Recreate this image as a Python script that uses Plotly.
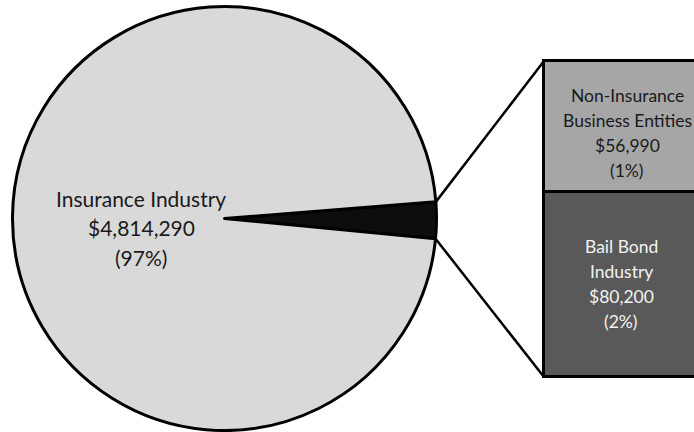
import math
import plotly.graph_objects as go

# Funding sources and their contributions
sources = ["Insurance Industry", "Non-Insurance Business Entities", "Bail Bond Industry"]
amounts = [4814290, 56990, 80200]
percents = ["97%", "1%", "2%"]
label_lines = [
    ["Insurance Industry"],
    ["Non-Insurance", "Business Entities"],
    ["Bail Bond", "Industry"],
]

# Styling
PIE_COLOR = "#d9d9d9"
WEDGE_COLOR = "#0d0d0d"
TOP_BAR_COLOR = "#a6a6a6"
BOTTOM_BAR_COLOR = "#595959"
FONT = "Lato"

W, H = 694, 432

# Pie geometry (pixels from top-left)
PIE_CX, PIE_CY, PIE_R = 224.5, 218.5, 212.0
PIE_ROTATION = 85.5  # start of the small wedge, clockwise from 12 o'clock

# Breakdown bar geometry (pixels from top-left)
BAR_LEFT, BAR_RIGHT = 544.0, 710.0
BAR_TOP_PX, BAR_BOTTOM_PX = 61.0, 377.0

other_total = amounts[1] + amounts[2]
grand_total = amounts[0] + other_total

# dollar-valued y axis so the stacked bar spans BAR_TOP_PX..BAR_BOTTOM_PX
dollars_per_px = other_total / (BAR_BOTTOM_PX - BAR_TOP_PX)
y_lo = -(H - BAR_BOTTOM_PX) * dollars_per_px
y_hi = y_lo + H * dollars_per_px


def fmt_money(v):
    return "${:,}".format(v)


def dollars_to_paper(v):
    return (v - y_lo) / (y_hi - y_lo)


fig = go.Figure()

# Pie: the combined small share is drawn first, going clockwise
fig.add_trace(go.Pie(
    values=[other_total, amounts[0]],
    labels=["Other", sources[0]],
    sort=False,
    direction="clockwise",
    rotation=PIE_ROTATION,
    marker=dict(colors=[WEDGE_COLOR, PIE_COLOR], line=dict(color="#000000", width=3)),
    textinfo="none",
    hoverinfo="skip",
    showlegend=False,
    domain=dict(
        x=[(PIE_CX - PIE_R) / W, (PIE_CX + PIE_R) / W],
        y=[(H - PIE_CY - PIE_R) / H, (H - PIE_CY + PIE_R) / H],
    ),
))

bar_center = (BAR_LEFT + BAR_RIGHT) / 2
bar_width = BAR_RIGHT - BAR_LEFT

# Stacked breakdown bar: bail bond at the bottom, non-insurance on top
fig.add_trace(go.Bar(
    x=[bar_center], y=[amounts[2]], width=[bar_width],
    marker=dict(color=BOTTOM_BAR_COLOR, line=dict(color="#000000", width=3)),
    hoverinfo="skip", showlegend=False,
))
fig.add_trace(go.Bar(
    x=[bar_center], y=[amounts[1]], width=[bar_width],
    marker=dict(color=TOP_BAR_COLOR, line=dict(color="#000000", width=3)),
    hoverinfo="skip", showlegend=False,
))

# Connector lines from the wedge edge to the bar corners
wedge_angle = 360.0 * other_total / grand_total
for ang, dollar_y in ((PIE_ROTATION, other_total), (PIE_ROTATION + wedge_angle, 0)):
    a = math.radians(ang)
    px = PIE_CX + PIE_R * math.sin(a)
    py = PIE_CY - PIE_R * math.cos(a)
    fig.add_shape(
        type="line", xref="paper", yref="paper",
        x0=px / W, y0=(H - py) / H,
        x1=BAR_LEFT / W, y1=dollars_to_paper(dollar_y),
        line=dict(color="#000000", width=2.5),
    )

annotations = []

# Pie label
pie_lines = label_lines[0] + [fmt_money(amounts[0]), "(" + percents[0] + ")"]
PIE_LABEL_X, PIE_LABEL_Y, PIE_LINE_GAP = 141.0, 227.5, 29.5
n = len(pie_lines)
for i, t in enumerate(pie_lines):
    annotations.append(dict(
        text=t, xref="paper", yref="paper",
        x=PIE_LABEL_X / W, y=(H - PIE_LABEL_Y) / H,
        yshift=((n - 1) / 2 - i) * PIE_LINE_GAP,
        showarrow=False, xanchor="center", yanchor="middle",
        font=dict(family=FONT, size=21, color="#1a1a1a"),
    ))

# Bar segment labels
BAR_LINE_GAP = 25.0
segments = [
    (1, amounts[2] + amounts[1] / 2, "#1a1a1a", 0, -6),
    (2, amounts[2] / 2, "#f2f2f2", -6, 1),
]
for idx, mid, color, xs, ys in segments:
    lines = label_lines[idx] + [fmt_money(amounts[idx]), "(" + percents[idx] + ")"]
    n = len(lines)
    for i, t in enumerate(lines):
        annotations.append(dict(
            text=t, xref="x", yref="y",
            x=bar_center, y=mid,
            xshift=xs, yshift=ys + ((n - 1) / 2 - i) * BAR_LINE_GAP,
            showarrow=False, xanchor="center", yanchor="middle",
            font=dict(family=FONT, size=17.5, color=color),
        ))

fig.update_layout(
    width=W, height=H,
    margin=dict(l=0, r=0, t=0, b=0),
    paper_bgcolor="#ffffff", plot_bgcolor="rgba(0,0,0,0)",
    barmode="stack", bargap=0,
    xaxis=dict(range=[0, W], visible=False, fixedrange=True),
    yaxis=dict(range=[y_lo, y_hi], visible=False, fixedrange=True),
    annotations=annotations,
    showlegend=False,
)

fig.write_html("out.html")
